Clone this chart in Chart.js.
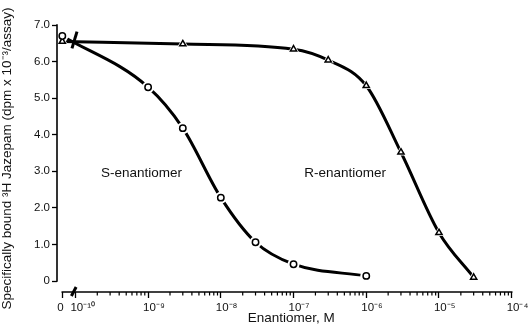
<!DOCTYPE html>
<html><head><meta charset="utf-8">
<script src="https://cdn.jsdelivr.net/npm/chart.js@4.4.1/dist/chart.umd.min.js"></script>
<style>html,body{margin:0;padding:0;background:#fff}#wrap{width:532px;height:332px}</style>
</head><body><div id="wrap"><canvas id="c" width="532" height="332"></canvas></div>
<script>
// ---- data ----
const sConc  = [0, 1e-9, 3e-9, 1e-8, 3e-8, 1e-7, 1e-6];
const sBound = [6.70, 5.30, 4.18, 2.28, 1.06, 0.46, 0.14];
const rConc  = [0, 3e-9, 1e-7, 3e-7, 1e-6, 3e-6, 1e-5, 3e-5];
const rBound = [6.55, 6.48, 6.34, 6.04, 5.34, 3.52, 1.32, 0.10];
const xTickExps   = [-10, -9, -8, -7, -6, -5, -4];
const xTickLabels = ['10\u207B\u00B9\u2070','10\u207B\u2079','10\u207B\u2078','10\u207B\u2077','10\u207B\u2076','10\u207B\u2075','10\u207B\u2074'];
const yTicks = [0, 1, 2, 3, 4, 5, 6, 7];
const ZERO_POS = -10.18;   // axis position of the "0" concentration (before the break)

const FONT = "'Liberation Sans', Arial, Helvetica, sans-serif";
const toPts = (conc, vals) => conc.map((c, i) => ({ x: c === 0 ? ZERO_POS : Math.log10(c), y: vals[i] }));
const sPts = toPts(sConc, sBound);
const rPts = toPts(rConc, rBound);

const decor = {
  id: 'decor',
  afterDatasetsDraw(chart) {
    const { ctx, chartArea, scales: { x, y } } = chart;
    ctx.save();
    ctx.strokeStyle = '#000';
    ctx.fillStyle = '#000';
    // y axis line (0 .. 7.0)
    ctx.lineWidth = 1.6;
    ctx.beginPath();
    ctx.moveTo(chartArea.left, y.getPixelForValue(yTicks[yTicks.length - 1]) - 0.8);
    ctx.lineTo(chartArea.left, y.getPixelForValue(0) + 0.8);
    ctx.stroke();
    // x axis line ("0" .. 10^-4)
    const yb = chartArea.bottom;
    ctx.beginPath();
    ctx.moveTo(x.getPixelForValue(ZERO_POS) - 0.8, yb);
    ctx.lineTo(x.getPixelForValue(xTickExps[xTickExps.length - 1]) + 0.8, yb);
    ctx.stroke();
    // minor log ticks
    ctx.lineWidth = 1.2;
    ctx.beginPath();
    for (let i = 0; i < xTickExps.length - 1; i++) {
      for (let k = 2; k <= 9; k++) {
        const px = x.getPixelForValue(xTickExps[i] + Math.log10(k));
        ctx.moveTo(px, yb); ctx.lineTo(px, yb + 3.5);
      }
    }
    ctx.stroke();
    // axis break mark
    ctx.lineWidth = 3;
    ctx.beginPath();
    ctx.moveTo(x.getPixelForValue(-10.055), yb + 4);
    ctx.lineTo(x.getPixelForValue(-9.99), yb - 5);
    ctx.stroke();
    // break mark on the curves
    ctx.beginPath();
    ctx.moveTo(x.getPixelForValue(-10.047), y.getPixelForValue(6.36));
    ctx.lineTo(x.getPixelForValue(-9.978), y.getPixelForValue(6.82));
    ctx.stroke();
    // curve labels
    ctx.font = "13.5px " + FONT;
    ctx.textAlign = 'center';
    ctx.textBaseline = 'middle';
    ctx.fillStyle = '#111';
    ctx.fillText('S-enantiomer', x.getPixelForValue(-9.09), y.getPixelForValue(2.95));
    ctx.fillText('R-enantiomer', x.getPixelForValue(-6.29), y.getPixelForValue(2.95));
    ctx.restore();
  }
};

new Chart(document.getElementById('c'), {
  type: 'scatter',
  data: {
    datasets: [
      { label: 'S markers', data: sPts, order: 0, showLine: false, pointStyle: 'circle', pointRadius: 3.2,
        pointBorderWidth: 1.5, pointBorderColor: '#000', pointBackgroundColor: '#fff' },
      { label: 'R markers', data: rPts, order: 0, showLine: false, pointStyle: 'triangle', pointRadius: 3.6,
        pointBorderWidth: 1.5, pointBorderColor: '#000', pointBackgroundColor: '#fff' },
      { label: 'S gap', data: sPts, order: 1, showLine: false, pointStyle: 'circle', pointRadius: 6,
        pointBorderWidth: 0, pointBackgroundColor: '#fff' },
      { label: 'R gap', data: rPts, order: 1, showLine: false, pointStyle: 'triangle', pointRadius: 6.5,
        pointBorderWidth: 0, pointBackgroundColor: '#fff' },
      { label: 'S-enantiomer', data: sPts, order: 2, showLine: true, borderColor: '#000', borderWidth: 3,
        pointRadius: 0, cubicInterpolationMode: 'monotone', fill: false },
      { label: 'R-enantiomer', data: rPts, order: 2, showLine: true, borderColor: '#000', borderWidth: 3,
        pointRadius: 0, cubicInterpolationMode: 'monotone', fill: false }
    ]
  },
  options: {
    responsive: false,
    animation: false,
    devicePixelRatio: 1,
    layout: { padding: { left: 0, top: 25, right: 6, bottom: 0 } },
    plugins: { legend: { display: false }, tooltip: { enabled: false } },
    scales: {
      x: {
        type: 'linear',
        min: ZERO_POS - 0.073,
        max: -3.81,
        border: { display: false },
        grid: { drawOnChartArea: false, drawTicks: true, tickLength: 6, tickColor: '#000', tickWidth: 1.3 },
        afterBuildTicks: s => { s.ticks = [{ value: ZERO_POS }].concat(xTickExps.map(v => ({ value: v }))); },
        afterFit: s => { s.height = 40; s.paddingLeft = 0; s.paddingRight = 0; },
        ticks: {
          autoSkip: false, maxRotation: 0, align: 'start', labelOffset: -5, padding: 3,
          color: '#111', font: { family: FONT, size: 11.5 },
          callback: (v, i) => i === 0 ? '0' : xTickLabels[i - 1]
        },
        title: { display: true, text: 'Enantiomer, M', color: '#111',
          font: { family: FONT, size: 13.5 }, padding: { top: 0, bottom: 6 } }
      },
      y: {
        type: 'linear',
        min: -0.3,
        max: 7.0,
        border: { display: false },
        grid: { drawOnChartArea: false, drawTicks: true, tickLength: 5, tickColor: '#000', tickWidth: 1.3 },
        afterBuildTicks: s => { s.ticks = yTicks.map(v => ({ value: v })); },
        afterFit: s => { s.width = 57; s.paddingTop = 0; s.paddingBottom = 0; },
        ticks: {
          padding: 2, color: '#111', font: { family: FONT, size: 11.5 },
          callback: v => v === 0 ? '0' : v.toFixed(1)
        },
        title: { display: true, text: 'Specifically bound \u00B3H Jazepam (dpm x 10\u207B\u00B3/assay)', color: '#111',
          font: { family: FONT, size: 13.5, lineHeight: 1.1 }, padding: { top: 0, bottom: 0 } }
      }
    }
  },
  plugins: [decor]
});
</script>
</body></html>
